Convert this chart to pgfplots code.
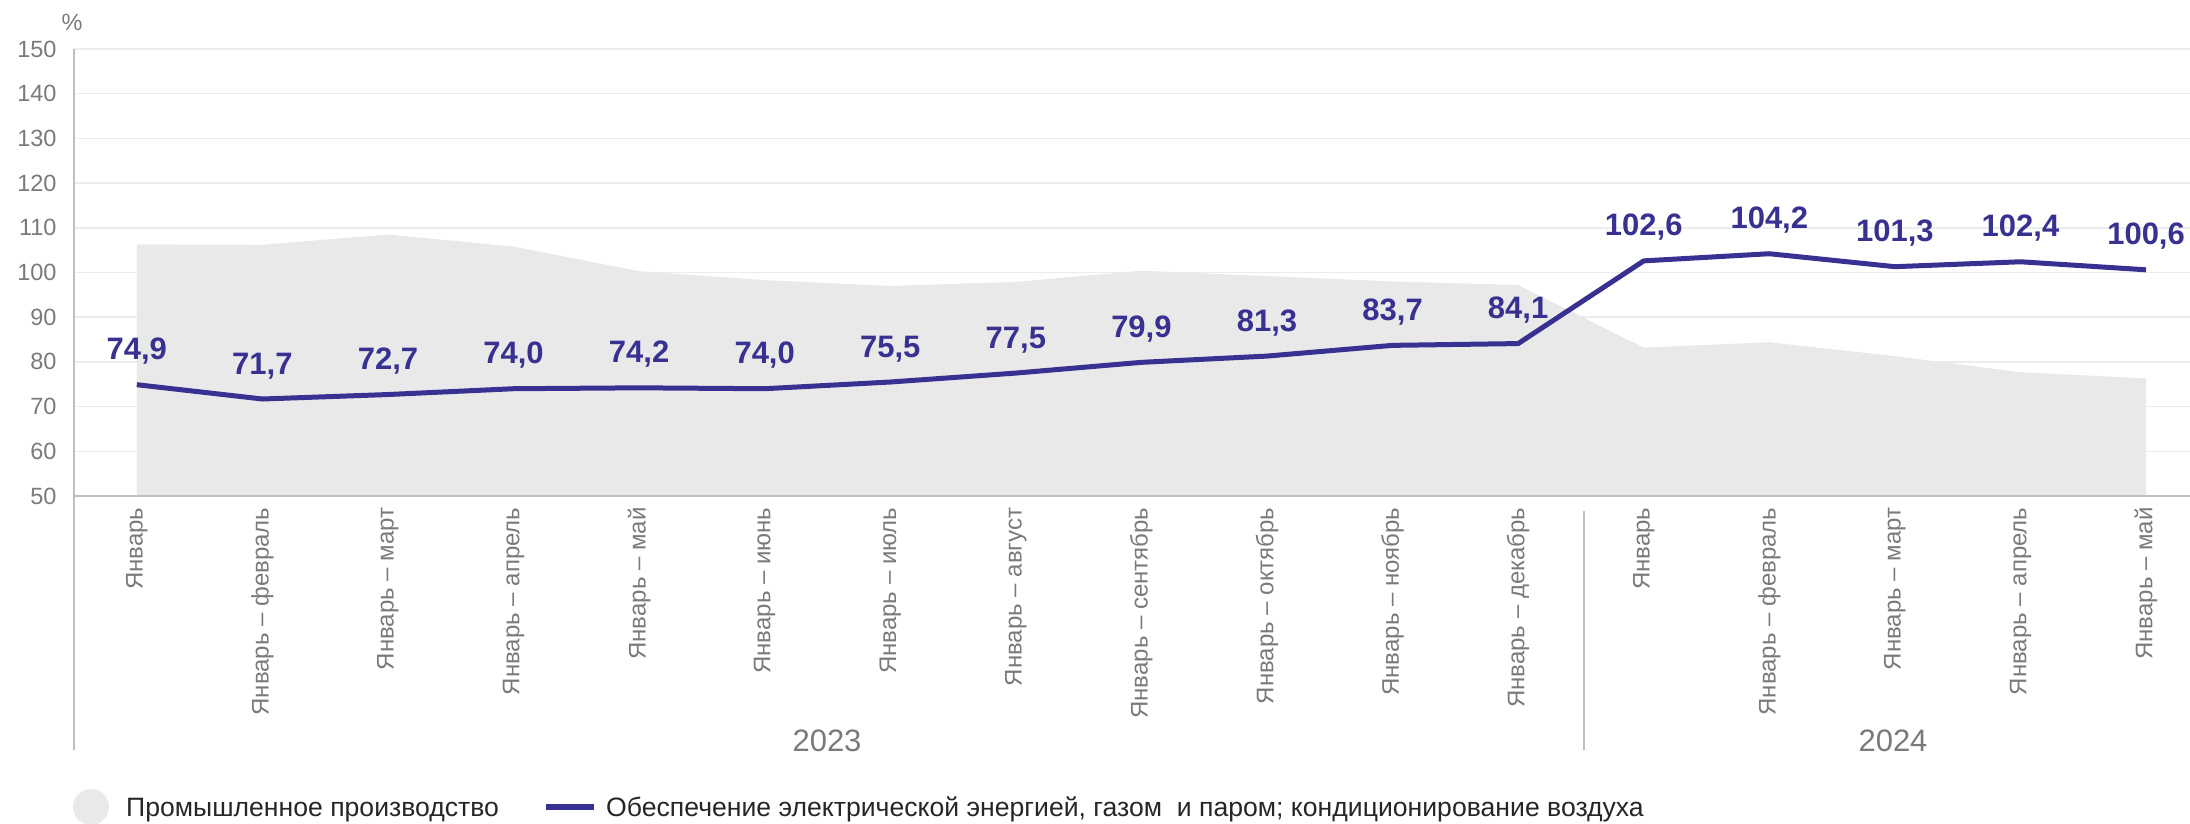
\documentclass[border=0pt]{standalone}
\usepackage{fontspec}
\setmainfont{Liberation Sans}
\usepackage{pgfplots}
\pgfplotsset{compat=1.18}
\definecolor{lineblue}{RGB}{56,49,146}
\definecolor{areagray}{RGB}{233,233,233}
\definecolor{gridgray}{RGB}{236,236,236}
\definecolor{axisgray}{RGB}{191,191,191}
\definecolor{tickgray}{RGB}{122,122,122}
\definecolor{legtext}{RGB}{38,38,38}
\newcommand{\yticksize}{\fontsize{23.5}{28}\selectfont}
\newcommand{\xticksize}{\fontsize{24}{29}\selectfont}
\newcommand{\legsize}{\fontsize{26.6}{32}\selectfont}
\begin{document}
\begin{tikzpicture}
\path[use as bounding box] (0,0) rectangle (2190pt,823pt);
\begin{axis}[
  at={(74pt,327pt)}, anchor=south west,
  scale only axis, width=2116pt, height=447pt,
  xmin=-0.5, xmax=16.35, ymin=50, ymax=150,
  axis lines=left, axis line style={draw=none},
  major tick length=0pt,
  ymajorgrids, major grid style={gridgray, line width=1.5pt},
  ytick={50,60,...,150},
  xtick={0,...,16},
  xticklabels={Январь, Январь – февраль, Январь – март, Январь – апрель, Январь – май, Январь – июнь, Январь – июль, Январь – август, Январь – сентябрь, Январь – октябрь, Январь – ноябрь, Январь – декабрь, Январь, Январь – февраль, Январь – март, Январь – апрель, Январь – май},
  xticklabel style={font=\xticksize, text=tickgray, rotate=90, anchor=east},
  yticklabel style={font=\yticksize, text=tickgray},
  xticklabel shift=8pt, yticklabel shift=14pt,
  /pgf/number format/assume math mode=true,
]
\addplot[fill=areagray, draw=none] coordinates {
  (0,106.3) (1,106.2) (2,108.5) (3,105.8) (4,100.3) (5,98.3) (6,97.0) (7,97.9) (8,100.4)
  (9,99.2) (10,98.0) (11,97.2) (12,83.2) (13,84.4) (14,81.3) (15,77.7) (16,76.3)
} \closedcycle;
\addplot[lineblue, line width=5pt, line join=round,
  nodes near coords={\pgfmathprintnumber[fixed,fixed zerofill,precision=1,use comma,assume math mode=true]{\pgfplotspointmeta}},
  nodes near coords style={font=\fontsize{31}{37}\selectfont\bfseries, text=lineblue, anchor=base, yshift=25pt, inner sep=0pt},
] coordinates {
  (0,74.9) (1,71.7) (2,72.7) (3,74.0) (4,74.2) (5,74.0) (6,75.5) (7,77.5) (8,79.9)
  (9,81.3) (10,83.7) (11,84.1) (12,102.6) (13,104.2) (14,101.3) (15,102.4) (16,100.6)
};
\end{axis}
% axis frame and year separators
\draw[axisgray, line width=2.5pt] (74pt,73pt) -- (74pt,774pt);
\draw[axisgray, line width=2.5pt] (73pt,327pt) -- (2190pt,327pt);
\draw[axisgray, line width=2pt] (1584pt,312pt) -- (1584pt,73pt);
\node[text=tickgray, font=\yticksize] at (72pt,801pt) {\%};
\node[text=tickgray, font=\fontsize{31}{37}\selectfont] at (827pt,82pt) {2023};
\node[text=tickgray, font=\fontsize{31}{37}\selectfont] at (1893pt,82pt) {2024};
% legend
\fill[areagray] (91pt,16pt) circle (18pt);
\node[text=legtext, font=\legsize, anchor=base west, inner sep=0pt] at (126pt,7pt) {Промышленное производство};
\draw[lineblue, line width=6pt] (546pt,16pt) -- (594pt,16pt);
\node[text=legtext, font=\legsize, anchor=base west, inner sep=0pt] at (606pt,7pt) {Обеспечение электрической энергией, газом~ и паром; кондиционирование воздуха};
\end{tikzpicture}
\end{document}
